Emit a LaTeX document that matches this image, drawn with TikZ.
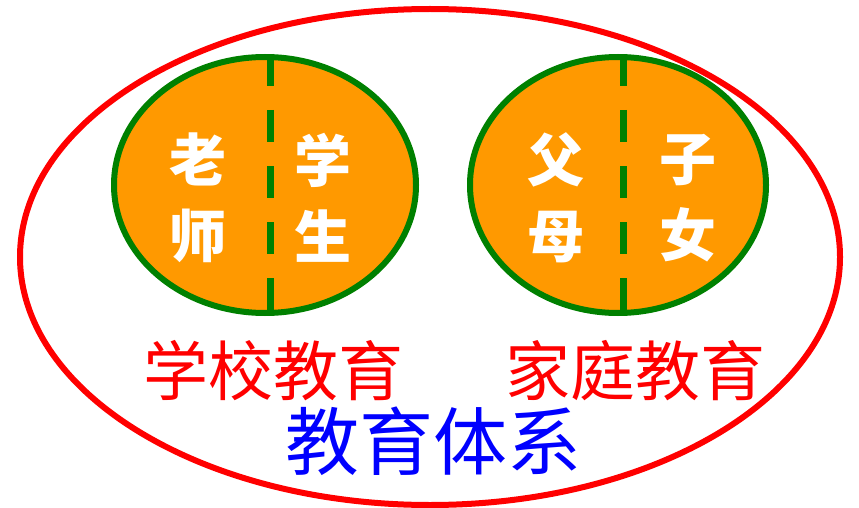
\documentclass[tikz,border=0pt]{standalone}
\usepackage{fontspec}
\newfontfamily\cjk{Noto Sans CJK SC}
\usetikzlibrary{shapes.geometric}
\definecolor{orangefill}{RGB}{255,153,0}
\definecolor{rimgreen}{RGB}{0,128,0}
\tikzset{
  circle/.style={ellipse, draw=rimgreen, line width=6pt, fill=orangefill, inner sep=0pt},
  divide/.style={draw=rimgreen, line width=7pt, dash pattern=on 32pt off 24pt},
  role/.style={text=white, font=\cjk\bfseries\fontsize{57}{76}\selectfont, align=center},
  kind/.style={text=red, font=\cjk\fontsize{65}{65}\selectfont}
}
\begin{document}
\begin{tikzpicture}[x=1pt, y=-1pt]
        \useasboundingbox (0,0) rectangle (859,508);
        % whole system
        \node[ellipse, draw=red, line width=6pt, minimum width=820pt, minimum height=496pt, inner sep=0pt] (system) at (430,257) {};
        % school side
        \node[circle, minimum width=302pt, minimum height=256pt] (school) at (265,185) {};
        \draw[divide] ([xshift=5pt]school.north) -- ([xshift=5pt]school.south);
        \node[role] (teacher) at (198,198) {老\\师};
        \node[role] (student) at (323,198) {学\\生};
        % family side
        \node[circle, minimum width=296pt, minimum height=256pt] (family) at (618,185) {};
        \draw[divide] ([xshift=5pt]family.north) -- ([xshift=5pt]family.south);
        \node[role] (parent) at (556,198) {父\\母};
        \node[role] (child) at (688,198) {子\\女};
        % labels
        \node[kind] (schoolname) at (273,371) {学校教育};
        \node[kind] (familyname) at (635,371) {家庭教育};
        \node[text=blue, font=\cjk\fontsize{74}{74}\selectfont] (systemname) at (433,441) {教育体系};
\end{tikzpicture}
\end{document}
